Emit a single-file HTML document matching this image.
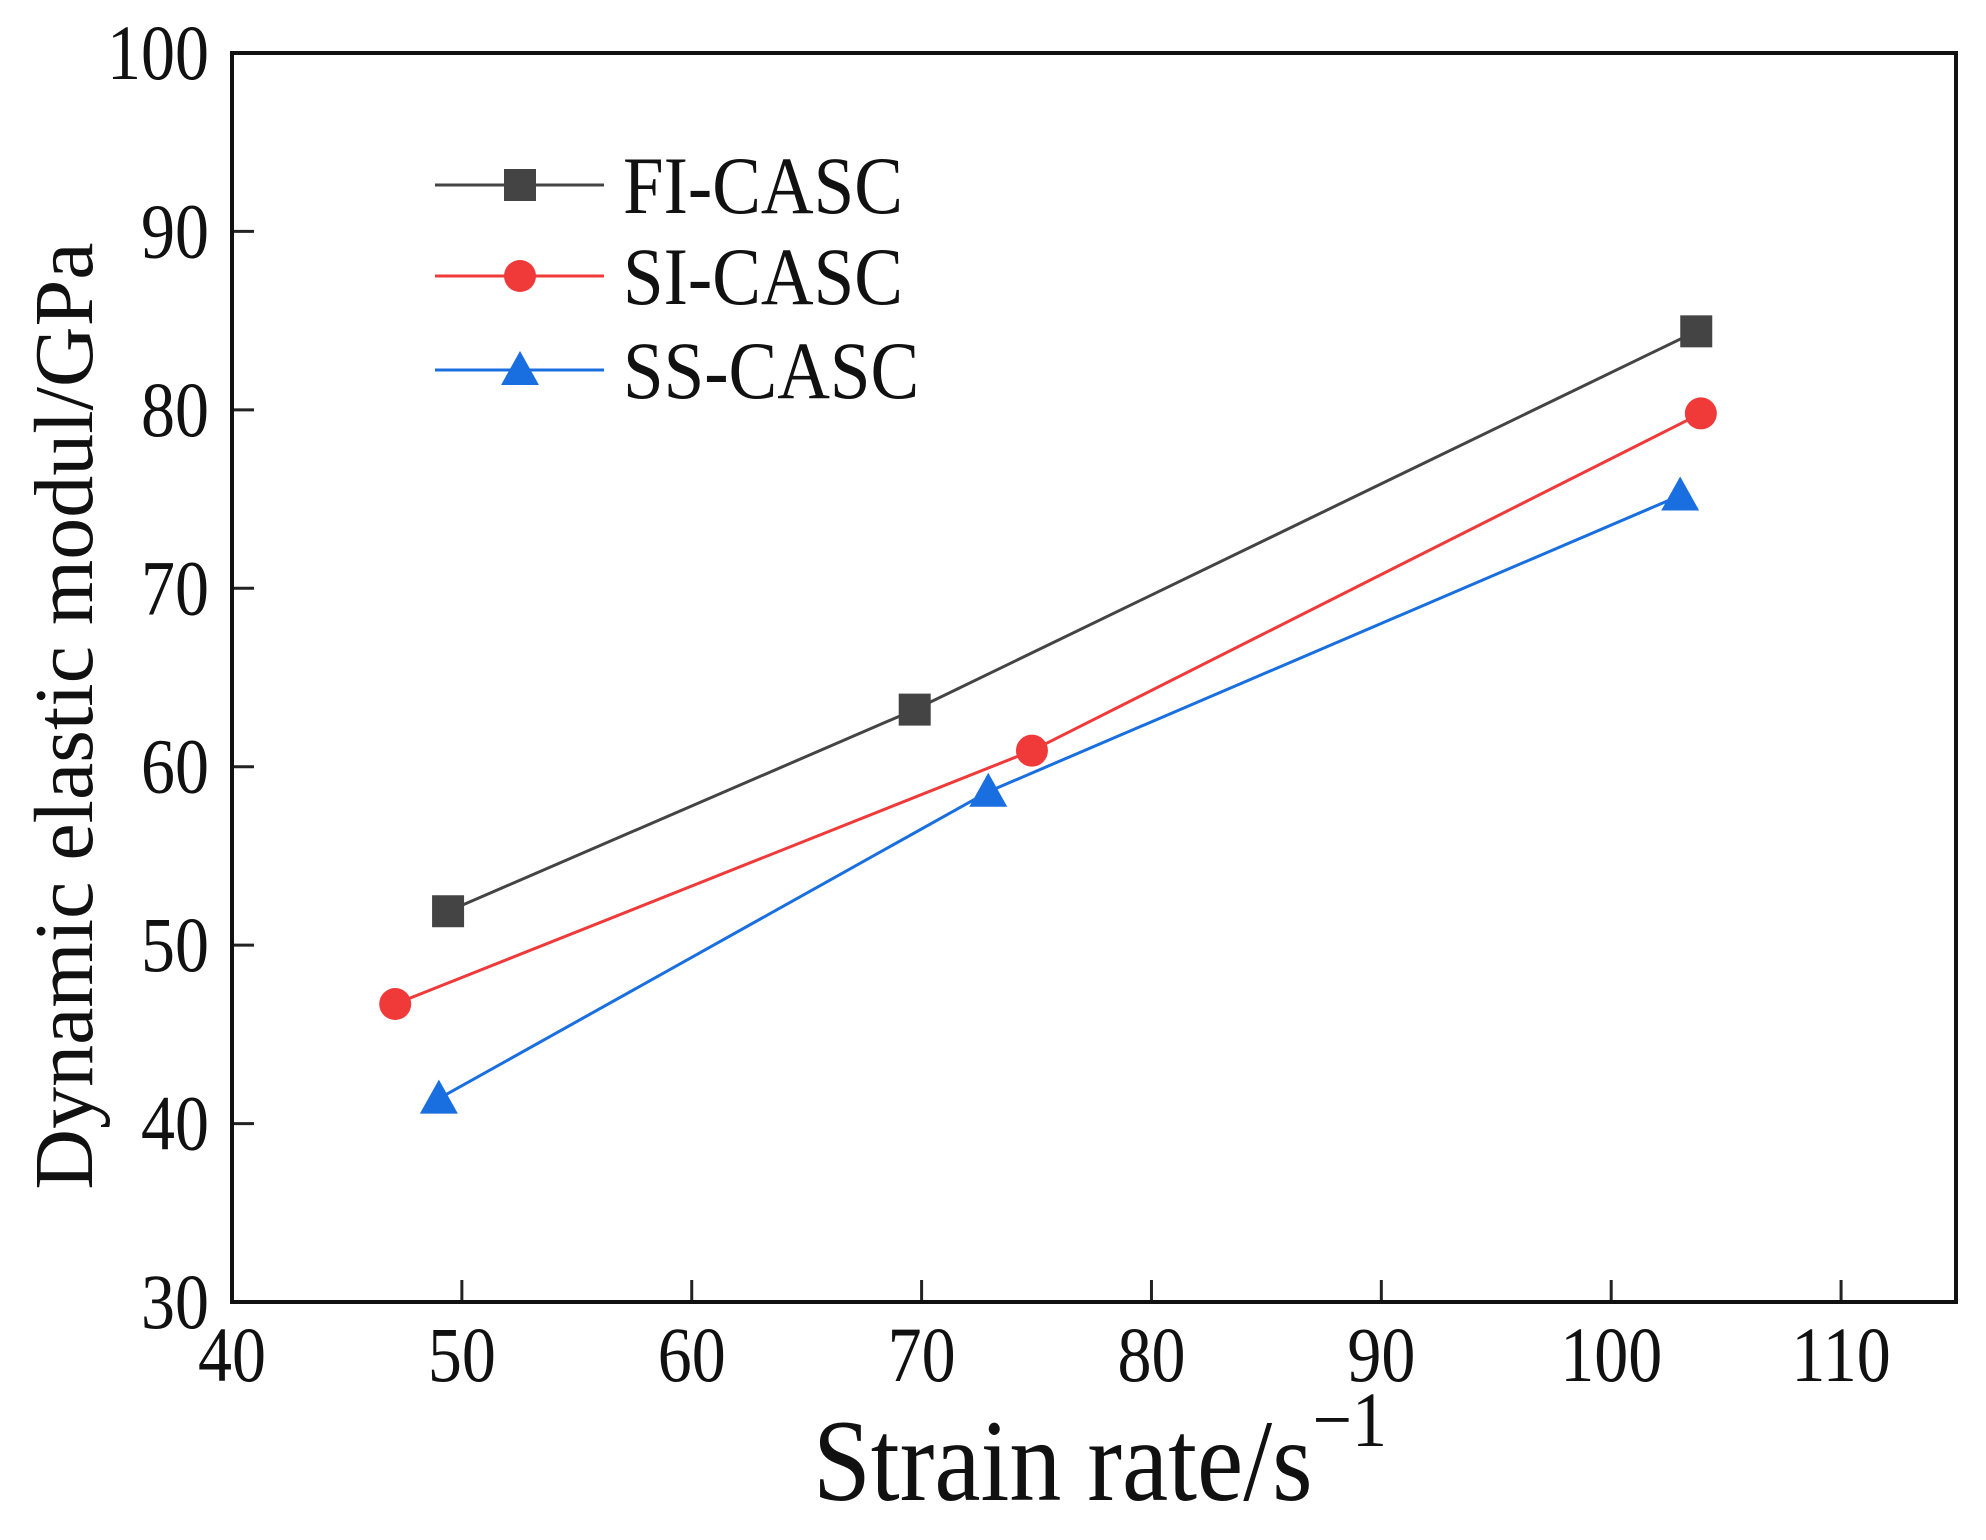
<!DOCTYPE html>
<html><head><meta charset="utf-8"><style>
html,body{margin:0;padding:0;background:#fff}
svg text{font-family:"Liberation Serif",serif;fill:#111}
</style></head><body>
<svg width="1986" height="1535" viewBox="0 0 1986 1535" xmlns="http://www.w3.org/2000/svg">
<g id="plot"></g>
</svg>
<script>
const xTicks=[40,50,60,70,80,90,100,110];
const yTicks=[30,40,50,60,70,80,90,100];
const fiX=[49.4,69.7,103.7];
const fiY=[51.9,63.2,84.4];
const siX=[47.1,74.8,103.9];
const siY=[46.7,60.9,79.8];
const ssX=[49,72.9,103];
const ssY=[41.4,58.6,75.2];
const seriesNames=["FI-CASC","SI-CASC","SS-CASC"];

const L=232,R=1956,T=53,B=1302;
const sx=v=>L+(v-40)*(R-L)/75;
const sy=v=>B-(v-30)*(B-T)/70;
const NS="http://www.w3.org/2000/svg";
const g=document.getElementById('plot');
function mk(tag,attrs,parent){const e=document.createElementNS(NS,tag);for(const k in attrs)e.setAttribute(k,attrs[k]);(parent||g).appendChild(e);return e;}

xTicks.forEach(v=>{
  const t=mk('line',{x1:sx(v),x2:sx(v),y1:B,y2:B-22,stroke:'#222','stroke-width':3});
  
  
  const tx=mk('text',{x:0,y:0,'font-size':68,'text-anchor':'middle',transform:`translate(${sx(v)},1381) scale(1,1.15)`});
  tx.textContent=v;
  
  
});
yTicks.forEach(v=>{
  const t=mk('line',{x1:L,x2:L+22,y1:sy(v),y2:sy(v),stroke:'#222','stroke-width':3});
  
  
  const tx=mk('text',{x:0,y:0,'font-size':68,'text-anchor':'end',transform:`translate(209,${sy(v)+26}) scale(1,1.15)`});
  tx.textContent=v;
  
  
});
const frame=mk('rect',{x:L,y:T,width:R-L,height:B-T,fill:'none',stroke:'#111','stroke-width':4});



const xt=mk('text',{x:0,y:0,'font-size':104,'text-anchor':'middle',transform:'translate(1100,1500) scale(1,1.12)'});
xt.innerHTML='Strain rate/s<tspan dy="-48" font-size="70">\u22121</tspan>';


const yt=mk('text',{x:0,y:0,'font-size':84,'text-anchor':'middle',transform:'translate(92,716) rotate(-90)'});
yt.textContent='Dynamic elastic modul/GPa';



const colors=['#444444','#f03a3a','#1a6fe0'];
const data=[[fiX,fiY],[siX,siY],[ssX,ssY]];
function marker(i,x,y,name){
  let m;
  if(i===0)m=mk('rect',{x:x-16,y:y-16,width:32,height:32,fill:colors[0]});
  else if(i===1)m=mk('circle',{cx:x,cy:y,r:16,fill:colors[1]});
  else m=mk('polygon',{points:`${x},${y-19} ${x-19},${y+15} ${x+19},${y+15}`,fill:colors[2]});
  
  
}
data.forEach((d,i)=>{
  const pts=d[0].map((xv,j)=>sx(xv)+','+sy(d[1][j])).join(' ');
  const pl=mk('polyline',{points:pts,fill:'none',stroke:colors[i],'stroke-width':3});
  
  
  d[0].forEach((xv,j)=>marker(i,sx(xv),sy(d[1][j]),seriesNames[i].toLowerCase()+'-point'));
});

const ly=[185,276,370];
seriesNames.forEach((n,i)=>{
  const l=mk('line',{x1:435,x2:604,y1:ly[i],y2:ly[i],stroke:colors[i],'stroke-width':3});
  
  
  marker(i,520,ly[i],'legend-marker');
  const t=mk('text',{x:0,y:0,'font-size':73,transform:`translate(623,${ly[i]+28}) scale(1,1.12)`});
  t.textContent=n;
  
  
});
</script>
</body></html>
